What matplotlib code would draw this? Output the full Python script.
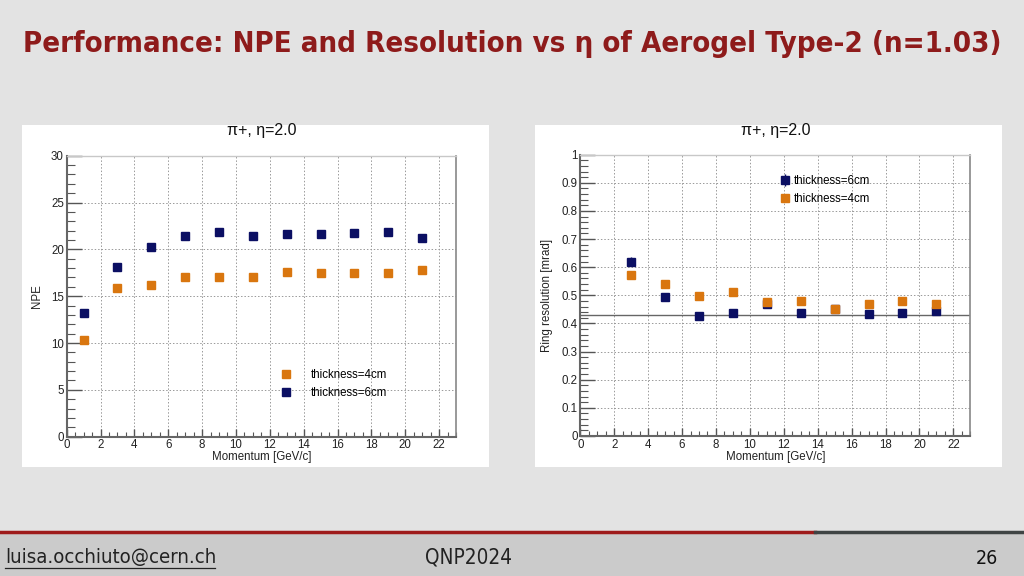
import matplotlib
matplotlib.use("Agg")
import matplotlib.pyplot as plt
from matplotlib.patches import Rectangle
from matplotlib.lines import Line2D
from matplotlib.ticker import MultipleLocator

# ---------------- data ----------------
momentum = [1, 3, 5, 7, 9, 11, 13, 15, 17, 19, 21]
npe_6cm = [13.2, 18.1, 20.2, 21.4, 21.9, 21.4, 21.6, 21.6, 21.7, 21.9, 21.2]
npe_4cm = [10.3, 15.9, 16.2, 17.0, 17.0, 17.1, 17.6, 17.5, 17.5, 17.5, 17.8]

res_momentum = [3, 5, 7, 9, 11, 13, 15, 17, 19, 21]
res_6cm = [0.620, 0.494, 0.428, 0.437, 0.470, 0.437, 0.450, 0.434, 0.436, 0.445]
res_6cm_err = [0.017, 0.004, 0.004, 0.004, 0.004, 0.004, 0.004, 0.004, 0.004, 0.004]
res_4cm = [0.571, 0.541, 0.496, 0.512, 0.475, 0.480, 0.451, 0.470, 0.480, 0.470]
res_fit = 0.431

title = "Performance: NPE and Resolution vs η of Aerogel Type-2 (n=1.03)"
panel_title = "π+, η=2.0"
footer_left = "luisa.occhiuto@cern.ch"
footer_mid = "QNP2024"
footer_right = "26"

NAVY = "#0b0f63"
ORANGE = "#d9760f"
W, H = 1024, 576

fig = plt.figure(figsize=(W / 100, H / 100), dpi=100)
fig.patch.set_facecolor("#e3e3e3")

def fx(px):
    return px / W

def fy(py):
    return 1 - py / H

# footer band
fig.patches.append(Rectangle((0, 0), 1, fy(533), transform=fig.transFigure,
                             facecolor="#cbcbcb", edgecolor="none", zorder=-2))
fig.add_artist(Line2D([0, fx(815)], [fy(532), fy(532)], color="#9e1b1b", lw=2.5))
fig.add_artist(Line2D([fx(815), 1], [fy(532), fy(532)], color="#3f4444", lw=2.5))

# white panels
for x0, x1 in [(22, 489), (535, 1002)]:
    fig.patches.append(Rectangle((fx(x0), fy(467)), fx(x1 - x0), (467 - 125) / H,
                                 transform=fig.transFigure, facecolor="white",
                                 edgecolor="none", zorder=-1))

renderer = fig.canvas.get_renderer()

def fit_text(t, target_px):
    for _ in range(3):
        w = t.get_window_extent(renderer=renderer).width
        t.set_fontsize(t.get_fontsize() * target_px / w)

# title
tt = fig.text(0.5, fy(44), title, ha="center", va="center", color="#8e1b1b",
              fontsize=25, fontweight="bold", fontstretch="condensed",
              family=["DejaVu Sans"])
fit_text(tt, 982)

# footer texts
NARROW = ["DejaVu Sans"]
f1 = fig.text(fx(5), fy(558), footer_left, ha="left", va="center", color="#222222",
              fontsize=12, fontstretch="condensed", family=NARROW)
fit_text(f1, 210)
fig.add_artist(Line2D([fx(5), fx(215)], [fy(568), fy(568)], color="#222222", lw=0.9))
f2 = fig.text(fx(469), fy(558), footer_mid, ha="center", va="center", color="#222222",
              fontsize=11, fontstretch="condensed", family=NARROW)
fit_text(f2, 87)
fig.text(fx(987), fy(558), footer_right, ha="center", va="center", color="#111111",
         fontsize=14, fontstretch="condensed", family=NARROW)

FONT = ["Liberation Sans", "DejaVu Sans"]

def style_axes(ax, ymax, ymajor, yminor, ylabel):
    ax.set_xlim(0, 23)
    ax.set_ylim(0, ymax)
    ax.xaxis.set_major_locator(MultipleLocator(2))
    ax.xaxis.set_minor_locator(MultipleLocator(0.5))
    ax.yaxis.set_major_locator(MultipleLocator(ymajor))
    ax.yaxis.set_minor_locator(MultipleLocator(yminor))
    ax.tick_params(which="both", direction="in", labelsize=8.3, colors="#555555",
                   labelcolor="#222222", top=False, right=False, pad=2)
    ax.tick_params(axis="x", which="major", length=6, width=1.0)
    ax.tick_params(axis="x", which="minor", length=3.5, width=0.8)
    ax.tick_params(axis="y", which="major", length=11, width=1.0)
    ax.tick_params(axis="y", which="minor", length=5.5, width=0.8)
    ax.grid(True, which="major", linestyle=(0, (1.5, 2)), color="#999999", lw=0.7)
    ax.spines["left"].set_color("#666666")
    ax.spines["bottom"].set_color("#666666")
    ax.spines["left"].set_linewidth(1.5)
    ax.spines["bottom"].set_linewidth(1.5)
    ax.spines["top"].set_color("#c8c8c8")
    ax.spines["top"].set_linewidth(1.0)
    ax.spines["right"].set_color("#888888")
    ax.spines["right"].set_linewidth(1.2)
    for lab in ax.get_xticklabels() + ax.get_yticklabels():
        lab.set_family(FONT)
    ax.set_xlabel("Momentum [GeV/c]", fontsize=8.3, family=FONT, labelpad=0, color="#222222")
    ax.xaxis.label.set_ha("right")
    ax.set_ylabel(ylabel, fontsize=8.3, family=FONT, color="#222222")
    ax.set_axisbelow(True)

# ---- left: NPE ----
axL = fig.add_axes([fx(66.7), fy(436.7), fx(456 - 66.7), (436.7 - 155.7) / H])
axL.plot(momentum, npe_4cm, "s", color=ORANGE, ms=5.5, mec=ORANGE, label="thickness=4cm")
axL.plot(momentum, npe_6cm, "s", color=NAVY, ms=5.5, mec=NAVY, label="thickness=6cm")
style_axes(axL, 30, 5, 1, "NPE")
axL.xaxis.set_label_coords((311 - 66.7) / (456 - 66.7), -0.052)
axL.yaxis.set_label_coords((37 - 66.7) / (456 - 66.7), 0.5)
axL.yaxis.label.set_va("center")
axL.legend(loc="upper left", bbox_to_anchor=(fx(280.1), fy(369)),
           bbox_transform=fig.transFigure, frameon=False, prop={"family": FONT, "size": 8.3},
           handlelength=1.0, handletextpad=1.7, labelspacing=0.55, borderpad=0,
           borderaxespad=0)
fig.text(fx(262), fy(131), panel_title, ha="center", va="center", fontsize=11.5,
         family=FONT, color="#111111")

# ---- right: resolution ----
axR = fig.add_axes([fx(580.3), fy(436), fx(970.3 - 580.3), (436 - 154.7) / H])
axR.axhline(res_fit, color="#666666", lw=1.0, zorder=1)
h6 = axR.errorbar(res_momentum, res_6cm, yerr=res_6cm_err, fmt="s", color=NAVY, ms=5.5,
                  mec=NAVY, elinewidth=1, capsize=0, label="thickness=6cm", zorder=3)
h4, = axR.plot(res_momentum, res_4cm, "s", color=ORANGE, ms=5.5, mec=ORANGE,
               label="thickness=4cm", zorder=4)
style_axes(axR, 1, 0.1, 0.02, "Ring resolution [mrad]")
axR.set_yticks([0, 0.1, 0.2, 0.3, 0.4, 0.5, 0.6, 0.7, 0.8, 0.9, 1])
axR.set_yticklabels(["0", "0.1", "0.2", "0.3", "0.4", "0.5", "0.6", "0.7", "0.8", "0.9", "1"],
                    family=FONT)
axR.xaxis.set_label_coords((825 - 580.3) / (970.3 - 580.3), -0.052)
axR.yaxis.set_label_coords((547 - 580.3) / (970.3 - 580.3), 0.5)
axR.yaxis.label.set_va("center")
axR.legend([h6, h4], ["thickness=6cm", "thickness=4cm"], loc="upper left",
           bbox_to_anchor=(fx(780.6), fy(175)),
           bbox_transform=fig.transFigure, frameon=False, prop={"family": FONT, "size": 8.3},
           handlelength=0.8, handletextpad=0.35, labelspacing=0.55, borderpad=0,
           borderaxespad=0)
fig.text(fx(776), fy(131), panel_title, ha="center", va="center", fontsize=11.5,
         family=FONT, color="#111111")

fig.savefig("out.png", dpi=100, facecolor=fig.get_facecolor())
